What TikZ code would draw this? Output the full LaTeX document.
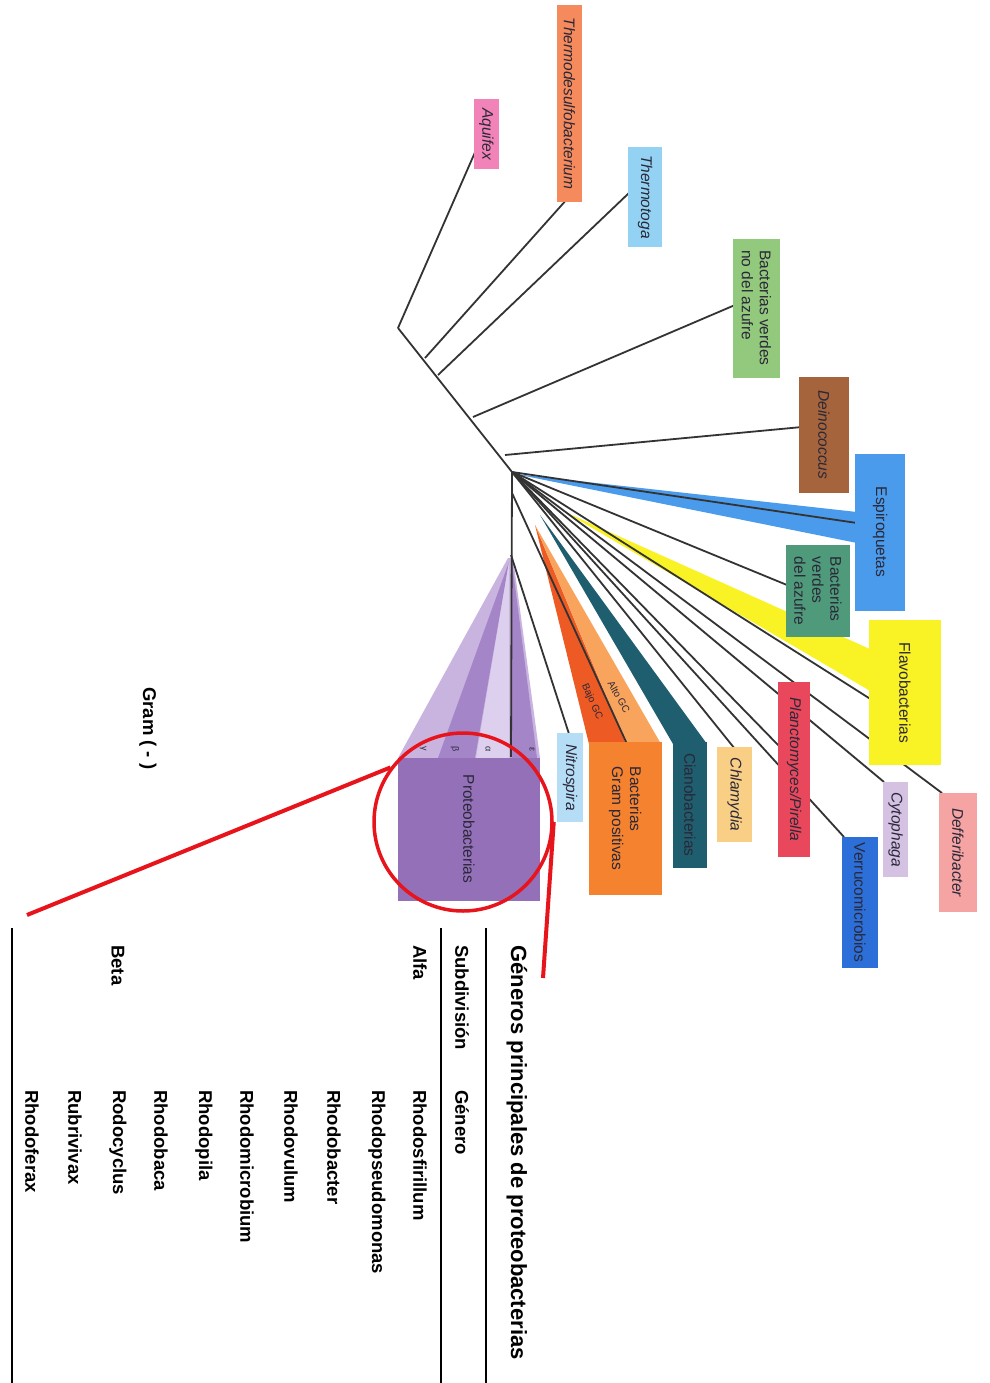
\documentclass[tikz,border=0pt]{standalone}
\usepackage{fontspec}
\setmainfont{Liberation Sans}
\definecolor{treeline}{HTML}{333333}
\definecolor{labeltext}{HTML}{2A2838}
\definecolor{cAq}{HTML}{F283B8}
\definecolor{cTd}{HTML}{F58A5C}
\definecolor{cTt}{HTML}{93D2F2}
\definecolor{cBv}{HTML}{93C97C}
\definecolor{cDn}{HTML}{A5643C}
\definecolor{cEs}{HTML}{4A9BEB}
\definecolor{cBa}{HTML}{4F9A7A}
\definecolor{cFl}{HTML}{F9F225}
\definecolor{cDf}{HTML}{F5A3A3}
\definecolor{cCy}{HTML}{D5C2E3}
\definecolor{cVe}{HTML}{2C6FD9}
\definecolor{cPl}{HTML}{E9485C}
\definecolor{cCh}{HTML}{F9CE85}
\definecolor{cCi}{HTML}{1F5E6E}
\definecolor{cGp}{HTML}{F5822F}
\definecolor{cBajo}{HTML}{EE5A24}
\definecolor{cAlto}{HTML}{F9A45C}
\definecolor{cNi}{HTML}{B5DDF5}
\definecolor{cPr}{HTML}{9370B8}
\definecolor{cPrL}{HTML}{C9B3DF}
\definecolor{cPrLL}{HTML}{DDD0EE}
\definecolor{cPrD}{HTML}{A385C8}
\definecolor{zoomred}{HTML}{E8141C}
\begin{document}
\begin{tikzpicture}[x=1pt,y=-1pt,
  tl/.style={draw=treeline, line width=1.8pt},
  taxbox/.style={rotate=-90, inner sep=0pt, align=left, text=labeltext,
     font=\fontsize{15.5}{18}\selectfont},
  gcl/.style={inner sep=0pt, text=labeltext, font=\fontsize{10}{11}\selectfont},
  greek/.style={rotate=-90, inner sep=0pt, text=labeltext, font=\fontsize{9}{10}\selectfont},
  tabtxt/.style={rotate=-90, anchor=west, inner sep=0pt, font=\bfseries\fontsize{18.5}{20}\selectfont},
  rule/.style={draw=black, line width=1.3pt},
  redl/.style={draw=zoomred, line width=4pt}]
\fill[white] (0,0) rectangle (989,1383);
\useasboundingbox (0,0) rectangle (989,1383);

% junctions
\coordinate (aq) at (398,328);
\coordinate (td) at (425,358);
\coordinate (tt) at (438,375);
\coordinate (bv) at (473,417);
\coordinate (dn) at (505,455);
\coordinate (hub) at (512,472);
\coordinate (v1) at (512,493);
\coordinate (v2) at (511,555);
\coordinate (vend) at (511,757);
% end points
\coordinate (eAq) at (476,150);
\coordinate (eTd) at (568,198);
\coordinate (eTt) at (630,192);
\coordinate (eBv) at (735,305);
\coordinate (eDn) at (802,427);
\coordinate (eEs) at (857,523);
\coordinate (eBa) at (787,585);
\coordinate (eFl) at (872,700);
\coordinate (eDf) at (942,793);
\coordinate (eCy) at (884,782);
\coordinate (eVe) at (844,837);
\coordinate (ePl) at (780,747);
\coordinate (eCh) at (735,749);
\coordinate (eGp) at (627,744);
\coordinate (eNi) at (570,737);

% coloured wedges
\fill[cEs] (515,474) -- (857,512) -- (857,543) -- cycle;
\fill[cFl] (565,512) -- (872,650) -- (872,692) -- cycle;
\fill[cCi] (540,515) -- (673,744) -- (707,744) -- cycle;
\fill[cBajo] (535,525) -- (589,744) -- (626,744) -- cycle;
\fill[cAlto] (535,525) -- (626,744) -- (661,744) -- cycle;
% proteobacteria fan
\fill[cPrL] (508,558) -- (398,758) -- (540,758) -- (513,558) -- cycle;
\fill[cPrD] (509,562) -- (438,758) -- (475,758) -- cycle;
\fill[cPrLL] (509,562) -- (476,758) -- (509,758) -- cycle;
\fill[cPrD] (512,562) -- (512,758) -- (537,758) -- cycle;

% tree lines
\draw[tl] (aq) -- (hub);
\draw[tl] (aq) -- (eAq);
\draw[tl] (td) -- (eTd);
\draw[tl] (tt) -- (eTt);
\draw[tl] (bv) -- (eBv);
\draw[tl] (dn) -- (eDn);
\draw[tl] (hub) -- (vend);
\draw[tl] (hub) -- (eEs);
\draw[tl] (hub) -- (eBa);
\draw[tl] (hub) -- (eFl);
\draw[tl] (hub) -- (eDf);
\draw[tl] (hub) -- (eCy);
\draw[tl] (hub) -- (eVe);
\draw[tl] (hub) -- (ePl);
\draw[tl] (hub) -- (eCh);
\draw[tl] (v1) -- (eGp);
\draw[tl] (v2) -- (eNi);

% boxes
\node[taxbox, fill=cAq, minimum width=70, minimum height=25] (nAq) at (486.5,134) {\itshape Aquifex};
\node[taxbox, fill=cTd, minimum width=197, minimum height=25] (nTd) at (569.5,103.5) {\itshape Thermodesulfobacterium};
\node[taxbox, fill=cTt, minimum width=100, minimum height=34] (nTt) at (645,197) {\itshape Thermotoga};
\node[taxbox, fill=cBv, minimum width=139, minimum height=47] (nBv) at (756.5,308) {Bacterias verdes\\no del azufre};
\node[taxbox, fill=cDn, minimum width=116, minimum height=50] (nDn) at (824,435) {\itshape Deinococcus};
\node[taxbox, fill=cEs, minimum width=157, minimum height=50] (nEs) at (880,532) {Espiroquetas};
\node[taxbox, fill=cBa, minimum width=92, minimum height=64] (nBa) at (818,591) {Bacterias\\verdes\\del azufre};
\node[taxbox, fill=cFl, minimum width=145, minimum height=72] (nFl) at (905,692.5) {Flavobacterias};
\node[taxbox, fill=cDf, minimum width=119, minimum height=38] (nDf) at (958,852.5) {\itshape Defferibacter};
\node[taxbox, fill=cCy, minimum width=95, minimum height=25] (nCy) at (895.5,829.5) {\itshape Cytophaga};
\node[taxbox, fill=cVe, minimum width=131, minimum height=36] (nVe) at (860,902.5) {Verrucomicrobios};
\node[taxbox, fill=cPl, minimum width=175, minimum height=32] (nPl) at (794,769.5) {\itshape Planctomyces/Pirella};
\node[taxbox, fill=cCh, minimum width=95, minimum height=35] (nCh) at (734.5,794.5) {\itshape Chlamydia};
\node[taxbox, fill=cCi, minimum width=126, minimum height=34] (nCi) at (690,805) {Cianobacterias};
\node[taxbox, fill=cGp, minimum width=153, minimum height=73] (nGp) at (625,818.5) {Bacterias\\Gram positivas};
\node[taxbox, fill=cNi, minimum width=89, minimum height=26] (nNi) at (570,777.5) {\itshape Nitrospira};
\node[taxbox, fill=cPr, minimum width=143, minimum height=142] (nPr) at (469,829) {Proteobacterias};

% GC labels
\node[gcl, rotate=-61] (lAlto) at (619,697) {Alto GC};
\node[gcl, rotate=-66] (lBajo) at (592,702) {Bajo GC};
% greek labels
\node[greek] (gG) at (423,749) {γ};
\node[greek] (gB) at (455,749) {β};
\node[greek] (gA) at (488,749) {α};
\node[greek] (gE) at (532,749) {ε};

% zoom circle and red lines
\node[circle, draw=zoomred, line width=3.5pt, minimum size=178pt, inner sep=0pt] (zoomc) at (463,822) {};
\coordinate (redL) at (27,915);
\coordinate (redR) at (543,978);
\draw[redl] (zoomc.143) -- (redL);
\draw[redl] (zoomc.east) -- (redR);

% Gram (-)
\node[tabtxt] (gram) at (148,687) {Gram ( - )};

% table
\coordinate (r1a) at (486,928); \coordinate (r1b) at (486,1383);
\coordinate (r2a) at (441,928); \coordinate (r2b) at (441,1383);
\coordinate (r3a) at (12,928);  \coordinate (r3b) at (12,1383);
\draw[rule] (r1a) -- (r1b);
\draw[rule] (r2a) -- (r2b);
\draw[rule] (r3a) -- (r3b);
\node[tabtxt, font=\bfseries\fontsize{22}{24}\selectfont] (title) at (517,945) {Géneros principales de proteobacterias};
\node[tabtxt] (hSub) at (462,945) {Subdivisión};
\node[tabtxt] (hGen) at (462,1090) {Género};
\node[tabtxt] (sAlfa) at (420,945) {Alfa};
\node[tabtxt] (sBeta) at (118,945) {Beta};
\node[tabtxt] (g1) at (420,1090) {Rhodosfirillum};
\node[tabtxt] (g2) at (377,1090) {Rhodopseudomonas};
\node[tabtxt] (g3) at (334,1090) {Rhodobacter};
\node[tabtxt] (g4) at (291,1090) {Rhodovulum};
\node[tabtxt] (g5) at (247,1090) {Rhodomicrobium};
\node[tabtxt] (g6) at (204,1090) {Rhodopila};
\node[tabtxt] (g7) at (161,1090) {Rhodobaca};
\node[tabtxt] (g8) at (118,1090) {Rodocyclus};
\node[tabtxt] (g9) at (75,1090) {Rubrivivax};
\node[tabtxt] (g10) at (32,1090) {Rhodoferax};
\end{tikzpicture}
\end{document}
